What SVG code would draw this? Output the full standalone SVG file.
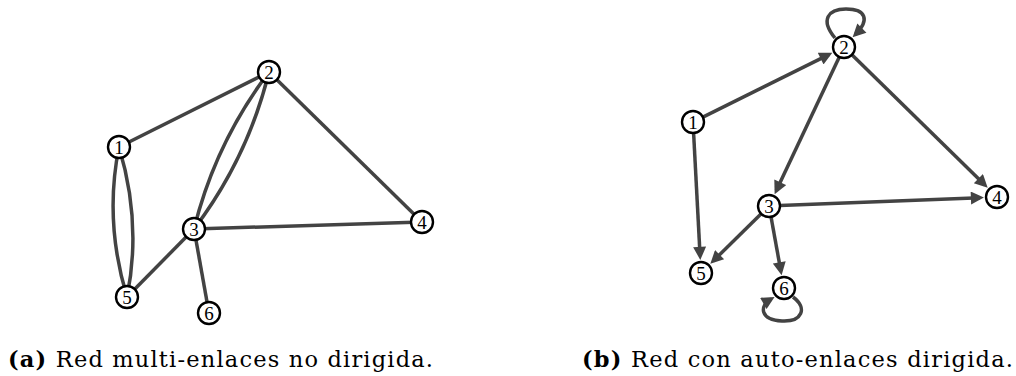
<svg xmlns="http://www.w3.org/2000/svg" width="1016" height="376" viewBox="0 0 1016 376">
<style>
.e{fill:none;stroke:#434343;stroke-width:3.5;stroke-linecap:butt}
.d{marker-end:url(#ah)}
.n circle{fill:#fff;stroke:#000;stroke-width:2.4}
.n text{font-family:"Liberation Serif","DejaVu Serif",serif;font-size:19px;text-anchor:middle;fill:#000}
.cap{font-family:"DejaVu Serif","Liberation Serif",serif;font-size:22.5px;fill:#000}
</style>
<defs>
<marker id="ah" viewBox="0 0 10 10" refX="7" refY="5" markerUnits="userSpaceOnUse" markerWidth="16" markerHeight="13" orient="auto">
<path d="M0,0 L10,5 L0,10 Z" fill="#434343"/>
</marker>
</defs>
<rect width="1016" height="376" fill="#fff"/>
<g id="connectors-a">
<line class="e" x1="119" y1="147" x2="269" y2="72"/>
<path class="e" d="M119,147 Q104,221 127,297"/>
<path class="e" d="M119,147 Q142,223 127,297"/>
<path class="e" d="M269,72 Q215.3,142.7 194,229"/>
<path class="e" d="M269,72 Q247.7,158.3 194,229"/>
<line class="e" x1="269" y1="72" x2="422" y2="222"/>
<line class="e" x1="194" y1="229" x2="422" y2="222"/>
<line class="e" x1="194" y1="229" x2="127" y2="297"/>
<line class="e" x1="194" y1="229" x2="209" y2="313"/>
</g>
<g id="nodes-a">
<g id="a1" class="n"><circle cx="119" cy="147" r="11"/><text x="119" y="153.5">1</text></g>
<g id="a2" class="n"><circle cx="269" cy="72" r="11"/><text x="269" y="78.5">2</text></g>
<g id="a3" class="n"><circle cx="194" cy="229" r="11"/><text x="194" y="235.5">3</text></g>
<g id="a4" class="n"><circle cx="422" cy="222" r="11"/><text x="422" y="228.5">4</text></g>
<g id="a5" class="n"><circle cx="127" cy="297" r="11"/><text x="127" y="303.5">5</text></g>
<g id="a6" class="n"><circle cx="209" cy="313" r="11"/><text x="209" y="319.5">6</text></g>
</g>
<g id="connectors-b">
<line class="e d" x1="702.9" y1="117.1" x2="828.8" y2="54.6"/>
<line class="e d" x1="693.6" y1="133" x2="700.1" y2="256"/>
<line class="e d" x1="839.3" y1="57" x2="776.3" y2="190.6"/>
<line class="e d" x1="851.9" y1="54.7" x2="984.9" y2="185.1"/>
<line class="e d" x1="780" y1="205.6" x2="980" y2="197.7"/>
<line class="e d" x1="761.2" y1="213.7" x2="713.1" y2="261.1"/>
<line class="e d" x1="771" y1="216.8" x2="780.9" y2="271.3"/>
<path class="e d" d="M835,38 C820,20 828,9 846,9 C866,9 870,20 855.4,34.4"/>
<path class="e d" d="M793,297 C808,308 802,322 782,321 C760,320 759,306 771.2,298.9"/>
</g>
<g id="nodes-b">
<g id="b1" class="n"><circle cx="693" cy="122" r="11"/><text x="693" y="128.5">1</text></g>
<g id="b2" class="n"><circle cx="844" cy="47" r="11"/><text x="844" y="53.5">2</text></g>
<g id="b3" class="n"><circle cx="769" cy="206" r="11"/><text x="769" y="212.5">3</text></g>
<g id="b4" class="n"><circle cx="997" cy="197" r="11"/><text x="997" y="203.5">4</text></g>
<g id="b5" class="n"><circle cx="701" cy="273" r="11"/><text x="701" y="279.5">5</text></g>
<g id="b6" class="n"><circle cx="784" cy="288" r="11"/><text x="784" y="294.5">6</text></g>
</g>
<text class="cap" x="8" y="367" textLength="425" lengthAdjust="spacing"><tspan font-weight="bold">(a)</tspan> Red multi-enlaces no dirigida.</text>
<text class="cap" x="582" y="367" textLength="431" lengthAdjust="spacing"><tspan font-weight="bold">(b)</tspan> Red con auto-enlaces dirigida.</text>
</svg>
